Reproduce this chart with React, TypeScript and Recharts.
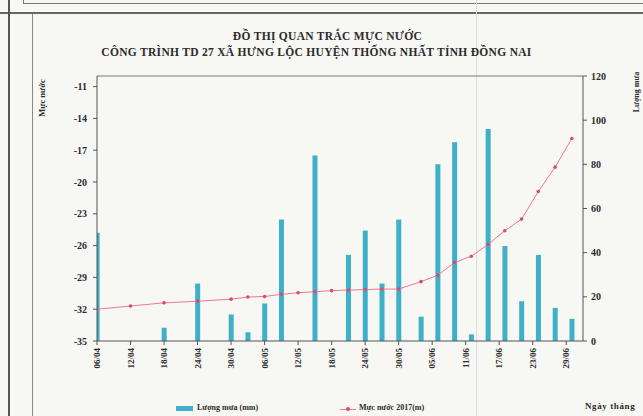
import React from 'react';
import { ComposedChart, Bar, Line, XAxis, YAxis, ReferenceLine } from 'recharts';

// measurement dates (dd/mm, 2017)
const dates = [
  '06/04', '12/04', '18/04', '24/04', '30/04', '03/05', '06/05', '09/05', '12/05',
  '15/05', '18/05', '21/05', '24/05', '27/05', '30/05', '03/06', '06/06', '09/06',
  '12/06', '15/06', '18/06', '21/06', '24/06', '27/06', '30/06',
];

// rainfall (mm)
const rainfall = [
  49, 0, 6, 26, 12, 4, 17, 55, 0,
  84, 0, 39, 50, 26, 55, 11, 80, 90,
  3, 96, 43, 18, 39, 15, 10,
];

// water level 2017 (m)
const waterLevel = [
  -32.0, -31.7, -31.4, -31.25, -31.05, -30.85, -30.8, -30.6, -30.45,
  -30.35, -30.25, -30.2, -30.15, -30.1, -30.1, -29.4, -28.8, -27.6,
  -27.0, -25.9, -24.6, -23.5, -20.9, -18.6, -15.9,
];

const dateTicks = [
  '06/04', '12/04', '18/04', '24/04', '30/04', '06/05', '12/05', '18/05',
  '24/05', '30/05', '05/06', '11/06', '17/06', '23/06', '29/06',
];
const levelTicks = [-35, -32, -29, -26, -23, -20, -17, -14, -11];
const rainTicks = [0, 20, 40, 60, 80, 100, 120];

const toDay = (s: string) => {
  const [d, m] = s.split('/').map(Number);
  return Math.round((Date.UTC(2017, m - 1, d) - Date.UTC(2017, 3, 6)) / 86400000);
};

const data = dates.map((d, i) => ({
  day: toDay(d),
  rain: rainfall[i],
  level: waterLevel[i],
}));
const tickDays = dateTicks.map(toDay);
const labelOf = (day: number) => dateTicks[tickDays.indexOf(day)] ?? '';

const serif = '"Liberation Serif", "Times New Roman", serif';
const ink = '#2b2b2b';

const DateTick = (props: any) => {
  const { x, y, payload } = props;
  const ty = y + 1;
  return (
    <text
      x={x}
      y={ty}
      transform={`rotate(-90 ${x} ${ty})`}
      textAnchor="end"
      dy="0.35em"
      fontSize={9}
      fontWeight="bold"
      fill={ink}
      fontFamily={serif}
    >
      {labelOf(payload.value)}
    </text>
  );
};

const tickStyle = { fontSize: 10, fontWeight: 'bold' as const, fill: ink, fontFamily: serif };

const Dot = (props: any) => {
  const { cx, cy } = props;
  return <circle cx={cx} cy={cy} r={1.8} fill="#d94a70" />;
};

const App = () => {
  return (
    <div
      style={{
        position: 'absolute',
        left: 0,
        top: 0,
        width: 643,
        height: 416,
        background: '#f7f7f4',
        overflow: 'hidden',
        fontFamily: serif,
        color: ink,
      }}
    >
      {/* page frame from the scanned report */}
      <div style={{ position: 'absolute', left: 23, top: 3, width: 620, height: 1, background: '#777' }} />
      <div style={{ position: 'absolute', left: 23, top: 0, width: 1, height: 4, background: '#777' }} />
      <div style={{ position: 'absolute', left: 0, top: 12, width: 643, height: 2, background: '#666' }} />
      <div style={{ position: 'absolute', left: 8, top: 0, width: 2, height: 416, background: '#555' }} />
      <div style={{ position: 'absolute', left: 32, top: 14, width: 1, height: 402, background: '#888' }} />
      <div style={{ position: 'absolute', left: 476, top: 0, width: 1, height: 416, background: '#dcdcdc' }} />

      <div
        style={{
          position: 'absolute',
          left: 0,
          width: 643,
          top: 28,
          textAlign: 'center',
          fontSize: 11.5,
          fontWeight: 'bold',
          lineHeight: '16px',
          letterSpacing: 0.3,
        }}
      >
        <div style={{ paddingLeft: 12 }}>ĐỒ THỊ QUAN TRẮC MỰC NƯỚC</div>
        <div style={{ paddingRight: 10 }}>CÔNG TRÌNH TD 27 XÃ HƯNG LỘC HUYỆN THỐNG NHẤT TỈNH ĐỒNG NAI</div>
      </div>

      <ComposedChart
        width={643}
        height={416}
        data={data}
        margin={{ top: 76, right: 0, left: 0, bottom: 0 }}
        style={{ position: 'absolute', left: 0, top: 0 }}
      >
        <XAxis
          dataKey="day"
          type="number"
          domain={[0, 87]}
          ticks={tickDays}
          interval={0}
          height={75}
          tick={<DateTick />}
          tickSize={4}
          axisLine={{ stroke: '#555' }}
          tickLine={{ stroke: '#555' }}
          allowDataOverflow
        />
        <YAxis
          yAxisId="left"
          domain={[-35, -10]}
          ticks={levelTicks}
          interval={0}
          width={97}
          tickSize={4}
          tickMargin={6}
          tick={tickStyle}
          axisLine={{ stroke: '#555' }}
          tickLine={{ stroke: '#555' }}
          allowDataOverflow
        />
        <YAxis
          yAxisId="right"
          orientation="right"
          domain={[0, 120]}
          ticks={rainTicks}
          interval={0}
          width={60}
          tickSize={4}
          tickMargin={4}
          tick={tickStyle}
          axisLine={{ stroke: '#555' }}
          tickLine={{ stroke: '#555' }}
        />
        <ReferenceLine yAxisId="left" y={-10} stroke="#777" />
        <Bar
          yAxisId="right"
          dataKey="rain"
          name="Lượng mưa (mm)"
          fill="#3eb1c8"
          barSize={5}
          isAnimationActive={false}
        />
        <Line
          yAxisId="left"
          dataKey="level"
          name="Mực nước 2017(m)"
          stroke="#ef7895"
          strokeWidth={1}
          dot={<Dot />}
          activeDot={false}
          isAnimationActive={false}
        />
      </ComposedChart>

      {/* axis titles */}
      <div
        style={{
          position: 'absolute',
          left: 42,
          top: 98,
          transform: 'translate(-50%, -50%) rotate(-90deg)',
          fontSize: 8.5,
          fontWeight: 'bold',
          whiteSpace: 'nowrap',
        }}
      >
        Mực nước
      </div>
      <div
        style={{
          position: 'absolute',
          left: 636,
          top: 92,
          transform: 'translate(-50%, -50%) rotate(-90deg)',
          fontSize: 8,
          fontWeight: 'bold',
          whiteSpace: 'nowrap',
        }}
      >
        Lượng mưa
      </div>

      {/* legend */}
      <div style={{ position: 'absolute', left: 176, top: 406, width: 17, height: 5, background: '#3eb1c8' }} />
      <div style={{ position: 'absolute', left: 197, top: 403, fontSize: 8, fontWeight: 'bold', whiteSpace: 'nowrap' }}>
        Lượng mưa (mm)
      </div>
      <div style={{ position: 'absolute', left: 340, top: 409, width: 16, height: 1, background: '#ef7895' }} />
      <div style={{ position: 'absolute', left: 346, top: 407, width: 4, height: 4, borderRadius: 2, background: '#d94a70' }} />
      <div style={{ position: 'absolute', left: 359, top: 403, fontSize: 8, fontWeight: 'bold', whiteSpace: 'nowrap' }}>
        Mực nước 2017(m)
      </div>
      <div
        style={{
          position: 'absolute',
          left: 585,
          top: 401,
          fontSize: 9,
          fontWeight: 'bold',
          whiteSpace: 'nowrap',
          letterSpacing: 0.6,
        }}
      >
        Ngày tháng
      </div>
    </div>
  );
};

export default App;
